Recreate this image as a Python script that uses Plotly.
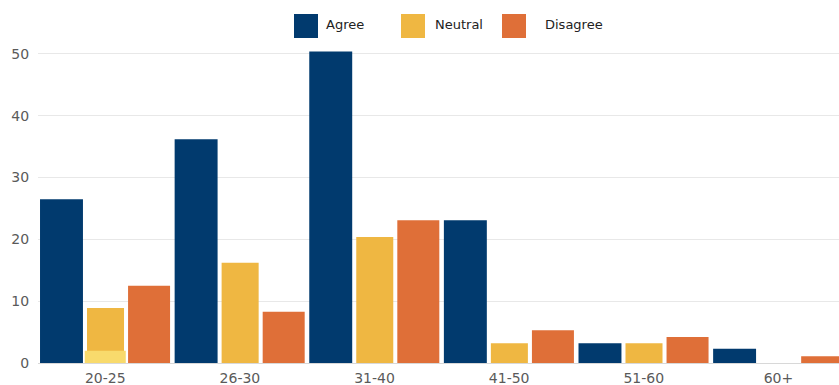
import plotly.graph_objects as go

# Survey responses by age group
age_groups = ["20-25", "26-30", "31-40", "41-50", "51-60", "60+"]
agree = [26.5, 36.2, 50.4, 23.1, 3.2, 2.3]
neutral = [8.9, 16.2, 20.4, 3.2, 3.2, 0]
disagree = [12.5, 8.3, 23.1, 5.3, 4.2, 1.1]
neutral_highlight = [2, None, None, None, None, None]

series_names = ["Agree", "Neutral", "Disagree"]
series_colors = ["#013a6e", "#efb742", "#df6f38"]
highlight_color = "#f8da6c"
y_ticks = [0, 10, 20, 30, 40, 50]

W, H = 839, 385
ML, MR, MT, MB = 38, 0, 23, 22

# Bar placement within each category slot (category units)
bar_offsets = [-0.485, -0.136, 0.169]
bar_widths = [0.319, 0.275, 0.312]

fig = go.Figure()
for name, vals, color, off, wd in zip(series_names, [agree, neutral, disagree],
                                      series_colors, bar_offsets, bar_widths):
    fig.add_trace(go.Bar(
        x=age_groups, y=vals, name=name, marker_color=color,
        marker_line_width=0, offset=off, width=wd, showlegend=False,
    ))
fig.add_trace(go.Bar(
    x=age_groups, y=neutral_highlight, name="Neutral", marker_color=highlight_color,
    marker_line_width=0, offset=-0.153, width=0.305, showlegend=False,
))

# Legend drawn as large square swatches with text labels
def px_x(p):
    return (p - ML) / (W - ML - MR)

def px_y(p):
    return 1 - (p - MT) / (H - MT - MB)

swatch_left = [294, 401, 502]
label_left = [324, 433, 543]
shapes, annotations = [], []
for name, color, sx, lx in zip(series_names, series_colors, swatch_left, label_left):
    shapes.append(dict(type="rect", xref="paper", yref="paper",
                       x0=px_x(sx), x1=px_x(sx + 24), y0=px_y(38), y1=px_y(14),
                       fillcolor=color, line_width=0, layer="above"))
    annotations.append(dict(text=name, xref="paper", yref="paper",
                            x=px_x(lx), y=px_y(25), xanchor="left", yanchor="middle",
                            showarrow=False,
                            font=dict(family="DejaVu Sans", size=13, color="#222222")))

fig.update_layout(
    width=W, height=H,
    margin=dict(l=ML, r=MR, t=MT, b=MB),
    barmode="overlay",
    plot_bgcolor="white", paper_bgcolor="white",
    font=dict(family="DejaVu Sans, sans-serif", size=14, color="#666666"),
    shapes=shapes, annotations=annotations,
    xaxis=dict(range=[-0.5, 5.45], showgrid=False, zeroline=False,
               showline=True, linecolor="#d8d8d8", linewidth=1,
               ticks="outside", ticklen=2, tickcolor="rgba(0,0,0,0)",
               tickfont=dict(size=14, color="#5a5a5a")),
    yaxis=dict(range=[0, 55], tickvals=y_ticks, showgrid=True,
               gridcolor="#e8e8e8", gridwidth=1, zeroline=False,
               ticks="outside", ticklen=5, tickcolor="rgba(0,0,0,0)",
               tickfont=dict(size=14, color="#5a5a5a")),
)

fig.write_html("out.html")
